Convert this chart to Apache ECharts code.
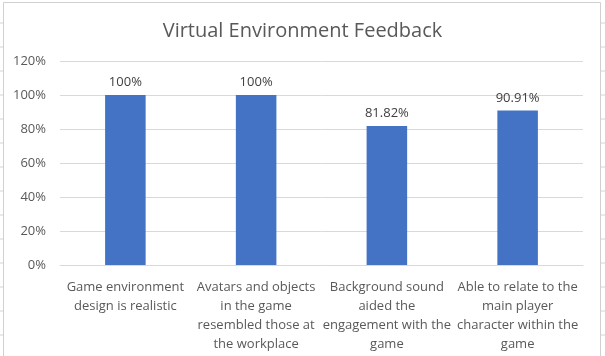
<!DOCTYPE html>
<html>
<head>
<meta charset="utf-8">
<script src="https://cdn.jsdelivr.net/npm/echarts@6/dist/echarts.min.js"></script>
<style>html,body{margin:0;padding:0;background:#fff;}#c{width:605px;height:356px;}</style>
</head>
<body>
<div id="c"></div>
<script>
const categories = [
  "Game environment\ndesign is realistic",
  "Avatars and objects\nin the game\nresembled those at\nthe workplace",
  "Background sound\naided the\nengagement with the\ngame",
  "Able to relate to the\nmain player\ncharacter within the\ngame"
];
const values = [100, 100, 81.82, 90.91];
const valueLabels = ["100%", "100%", "81.82%", "90.91%"];
const yTicks = [0, 20, 40, 60, 80, 100, 120];

const chart = echarts.init(document.getElementById('c'), null, {renderer: 'canvas'});
const FONT = '"Open Sans", "Liberation Sans", sans-serif';

// spreadsheet cell lines outside the chart box
const deco = [];
for (let y = 23; y < 356; y += 24) {
  deco.push({type: 'line', shape: {x1: 0, y1: y, x2: 3, y2: y}, style: {stroke: '#d4d4d4', lineWidth: 1}, silent: true});
  deco.push({type: 'line', shape: {x1: 601, y1: y, x2: 605, y2: y}, style: {stroke: '#d4d4d4', lineWidth: 1}, silent: true});
}
deco.push({type: 'rect', shape: {x: 3.5, y: 2.5, width: 597, height: 360}, style: {fill: 'none', stroke: '#d0d0d0', lineWidth: 1}, silent: true});

chart.setOption({
  backgroundColor: '#fff',
  animation: false,
  title: {
    text: 'Virtual Environment Feedback',
    left: 'center',
    top: 16,
    textStyle: {fontFamily: FONT, fontSize: 20, fontWeight: 'normal', color: '#595959'}
  },
  grid: {left: 60, right: 22, top: 61, bottom: 91},
  xAxis: {
    type: 'category',
    data: categories,
    axisLine: {lineStyle: {color: '#d9d9d9'}},
    axisTick: {show: false},
    axisLabel: {
      interval: 0,
      margin: 13,
      fontFamily: FONT,
      fontSize: 13,
      lineHeight: 19,
      color: '#595959'
    }
  },
  yAxis: {
    type: 'value',
    min: 0,
    max: 120,
    interval: 20,
    axisLine: {show: false},
    axisTick: {show: false},
    splitLine: {lineStyle: {color: '#d9d9d9'}},
    axisLabel: {
      margin: 14,
      fontFamily: FONT,
      fontSize: 13,
      color: '#595959',
      formatter: v => v + '%'
    }
  },
  series: [{
    type: 'bar',
    data: values,
    barWidth: '31%',
    itemStyle: {color: '#4472C4'},
    label: {
      show: true,
      position: 'top',
      distance: 6,
      fontFamily: FONT,
      fontSize: 13,
      color: '#404040',
      formatter: p => valueLabels[p.dataIndex]
    }
  }],
  graphic: deco
});
</script>
</body>
</html>
